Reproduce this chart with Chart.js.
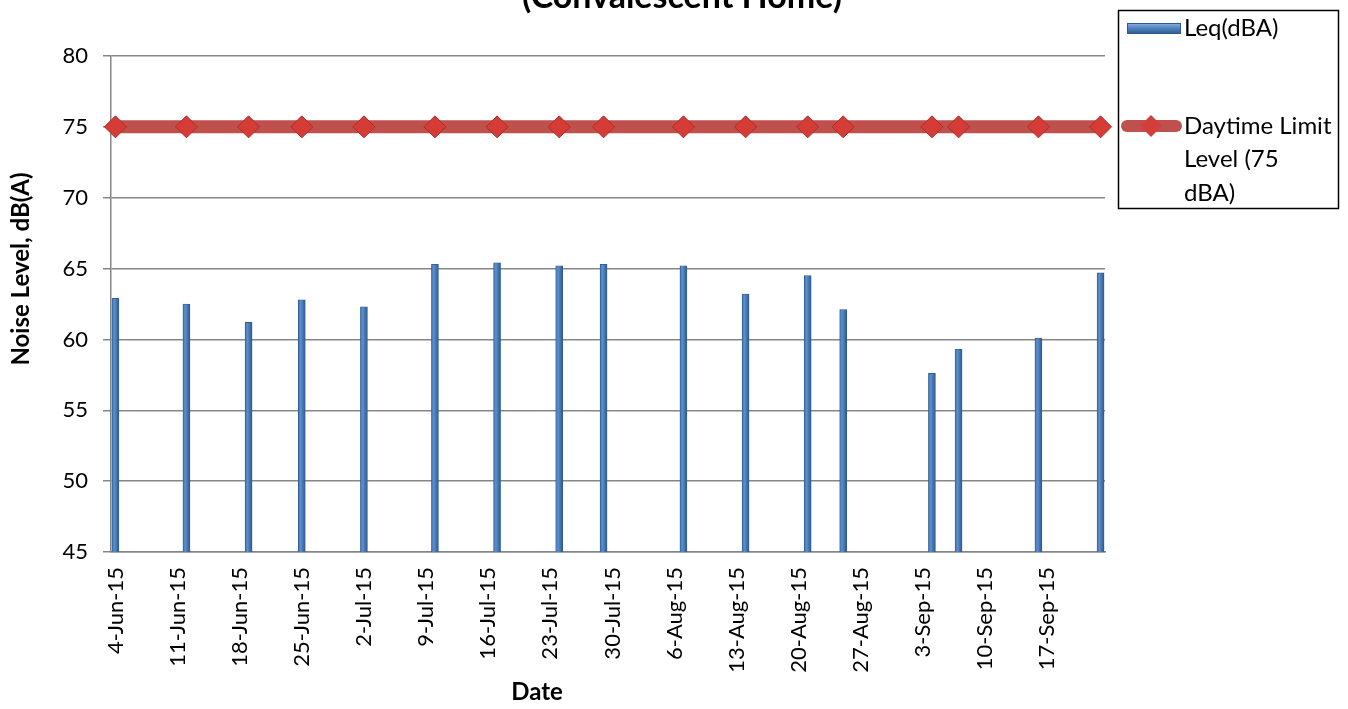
<!DOCTYPE html>
<html>
<head>
<meta charset="utf-8">
<script src="https://cdn.jsdelivr.net/npm/chart.js@4"></script>
<style>
  body { margin: 0; background: #fff; }
  canvas { display: block; }
</style>
</head>
<body>
<canvas id="noiseChart" width="1348" height="709"></canvas>
<script>
const startDate = "2015-06-04";

const measureDates = [
  "2015-06-04", "2015-06-12", "2015-06-19", "2015-06-25", "2015-07-02",
  "2015-07-10", "2015-07-17", "2015-07-24", "2015-07-29", "2015-08-07",
  "2015-08-14", "2015-08-21", "2015-08-25", "2015-09-04", "2015-09-07",
  "2015-09-16", "2015-09-23"
];

const leqValues = [
  62.9, 62.5, 61.2, 62.8, 62.3,
  65.3, 65.4, 65.2, 65.3, 65.2,
  63.2, 64.5, 62.1, 57.6, 59.3,
  60.1, 64.7
];

const limitValues = [75, 75, 75, 75, 75, 75, 75, 75, 75, 75, 75, 75, 75, 75, 75, 75, 75];

const tickDates = [
  "2015-06-04", "2015-06-11", "2015-06-18", "2015-06-25", "2015-07-02",
  "2015-07-09", "2015-07-16", "2015-07-23", "2015-07-30", "2015-08-06",
  "2015-08-13", "2015-08-20", "2015-08-27", "2015-09-03", "2015-09-10",
  "2015-09-17"
];

const yTicks = [45, 50, 55, 60, 65, 70, 75, 80];

const months = ["Jan", "Feb", "Mar", "Apr", "May", "Jun", "Jul", "Aug", "Sep", "Oct", "Nov", "Dec"];

const dayOf = iso => Math.round((Date.parse(iso) - Date.parse(startDate)) / 86400000);
const fmtDate = iso => {
  const d = new Date(iso + "T00:00:00Z");
  return d.getUTCDate() + "-" + months[d.getUTCMonth()] + "-" + String(d.getUTCFullYear()).slice(2);
};

const FONT = "Lato";

// Excel-ish bevel on each bar
function barFill(ctx) {
  const chart = ctx.chart;
  if (!chart.chartArea || !ctx.raw) return "#4f81bd";
  const x = chart.scales.x.getPixelForValue(ctx.raw.x);
  const g = chart.ctx.createLinearGradient(x - 4, 0, x + 4, 0);
  g.addColorStop(0, "#3c6ca5");
  g.addColorStop(0.35, "#5b8fd0");
  g.addColorStop(1, "#2a5484");
  return g;
}

const textPlugin = {
  id: "texts",
  afterDraw(chart) {
    const c = chart.ctx;
    c.save();
    c.fillStyle = "#000";

    // title, top line sits outside the picture
    c.font = "bold 34px " + FONT;
    c.textAlign = "center";
    c.textBaseline = "alphabetic";
    c.fillText("(Convalescent Home)", 682, 8);

    // axis titles
    c.font = "bold 24px " + FONT;
    c.textBaseline = "middle";
    c.fillText("Date", 537, 692);
    c.save();
    c.translate(21, 269);
    c.rotate(-Math.PI / 2);
    c.fillText("Noise Level, dB(A)", 0, 0);
    c.restore();

    // legend
    const ds = chart.data.datasets;
    c.lineWidth = 1.5;
    c.strokeStyle = "#000";
    c.strokeRect(1118.5, 10.5, 220, 198);

    const g = c.createLinearGradient(0, 23, 0, 34);
    g.addColorStop(0, "#8db4e6");
    g.addColorStop(0.5, "#4f81bd");
    g.addColorStop(1, "#2c5a8e");
    c.fillStyle = g;
    c.fillRect(1127, 23, 54, 11);
    c.strokeStyle = "#2c5a8e";
    c.lineWidth = 1;
    c.strokeRect(1127.5, 23.5, 53, 10);

    c.strokeStyle = "#c0504d";
    c.lineWidth = 12;
    c.lineCap = "round";
    c.beginPath();
    c.moveTo(1127, 126);
    c.lineTo(1176, 126);
    c.stroke();
    c.fillStyle = "#d23f3a";
    c.beginPath();
    c.moveTo(1140, 126);
    c.lineTo(1151, 115);
    c.lineTo(1162, 126);
    c.lineTo(1151, 137);
    c.closePath();
    c.fill();

    c.fillStyle = "#000";
    c.font = "24px " + FONT;
    c.textAlign = "left";
    c.textBaseline = "middle";
    c.fillText(ds[0].label, 1184, 28);
    const lines = ["Daytime Limit", "Level (75", "dBA)"];
    lines.forEach((t, i) => c.fillText(t, 1184, 126 + i * 33.5));
    c.restore();
  }
};

const barData = measureDates.map((d, i) => ({ x: dayOf(d), y: leqValues[i] }));
const lineData = measureDates.map((d, i) => ({ x: dayOf(d), y: limitValues[i] }));
const tickDays = tickDates.map(dayOf);
const lastDay = dayOf(measureDates[measureDates.length - 1]);

new Chart(document.getElementById("noiseChart"), {
  type: "bar",
  data: {
    datasets: [
      {
        type: "bar",
        label: "Leq(dBA)",
        data: barData,
        backgroundColor: barFill,
        borderColor: "#2f5b8c",
        borderWidth: 0.8,
        barThickness: 7,
        order: 2
      },
      {
        type: "line",
        label: "Daytime Limit Level (75 dBA)",
        data: lineData,
        clip: false,
        borderColor: "#c0504d",
        borderWidth: 13,
        borderCapStyle: "round",
        pointStyle: "rectRot",
        pointRadius: 11,
        pointBackgroundColor: "#d63c36",
        pointBorderColor: "#a3302b",
        pointBorderWidth: 1,
        order: 1
      }
    ]
  },
  options: {
    responsive: false,
    animation: false,
    layout: { padding: { left: 0, right: 243, top: 56, bottom: 0 } },
    plugins: {
      legend: { display: false },
      title: { display: false },
      tooltip: { enabled: false }
    },
    scales: {
      x: {
        type: "linear",
        offset: false,
        min: -0.5,
        max: lastDay + 0.5,
        afterFit: s => { s.height = 157; },
        afterBuildTicks: s => { s.ticks = tickDays.map(v => ({ value: v })); },
        grid: { display: false, drawTicks: false },
        border: { color: "#868686", width: 1.5 },
        ticks: {
          autoSkip: false,
          minRotation: 90,
          maxRotation: 90,
          padding: 15,
          color: "#000",
          font: { family: FONT, size: 22 },
          callback: (v, i) => fmtDate(tickDates[i])
        }
      },
      y: {
        min: 45,
        max: 80,
        afterFit: s => { s.width = 111; },
        afterBuildTicks: s => { s.ticks = yTicks.map(v => ({ value: v })); },
        grid: { color: "#868686", lineWidth: 1.5, tickLength: 8 },
        border: { color: "#868686", width: 1.5 },
        ticks: {
          padding: 15,
          color: "#000",
          font: { family: FONT, size: 22 }
        }
      }
    }
  },
  plugins: [textPlugin]
});
</script>
</body>
</html>
